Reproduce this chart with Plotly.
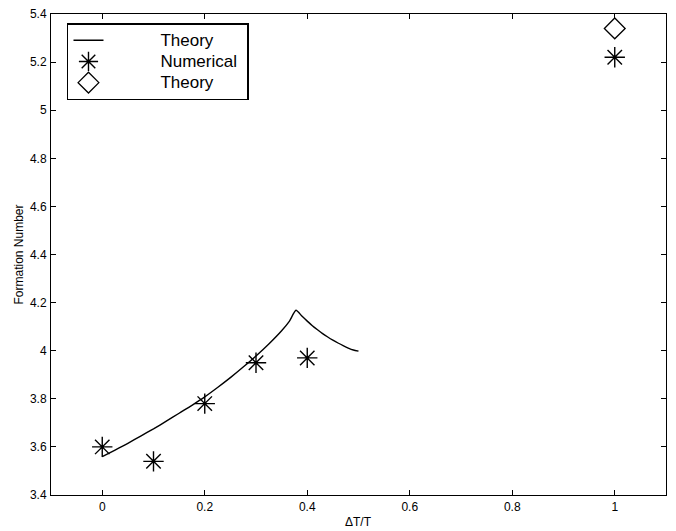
import plotly.graph_objects as go

# Theory curve
theory_x = [0.0, 0.025, 0.05, 0.075, 0.1, 0.125, 0.15, 0.175, 0.2, 0.225, 0.25, 0.275, 0.3,
            0.325, 0.35, 0.365, 0.378, 0.39, 0.40, 0.41, 0.42, 0.43, 0.44, 0.45, 0.46,
            0.47, 0.48, 0.49, 0.50]
theory_y = [3.56, 3.587, 3.615, 3.645, 3.675, 3.707, 3.74, 3.773, 3.808, 3.847, 3.888, 3.932, 3.978,
            4.028, 4.083, 4.122, 4.168, 4.143, 4.123, 4.104, 4.087, 4.071, 4.057, 4.044, 4.032,
            4.021, 4.011, 4.003, 3.998]

# Numerical results
num_x = [0.0, 0.1, 0.2, 0.3, 0.4, 1.0]
num_y = [3.60, 3.54, 3.78, 3.95, 3.97, 5.22]

# Theory point
th_pt_x = [1.0]
th_pt_y = [5.34]

x_ticks = [0, 0.2, 0.4, 0.6, 0.8, 1]
x_tick_labels = ["0", "0.2", "0.4", "0.6", "0.8", "1"]
y_ticks = [3.4, 3.6, 3.8, 4.0, 4.2, 4.4, 4.6, 4.8, 5.0, 5.2, 5.4]
y_tick_labels = ["3.4", "3.6", "3.8", "4", "4.2", "4.4", "4.6", "4.8", "5", "5.2", "5.4"]

FONT = "Liberation Sans, Arial, Helvetica"
PAD = "&nbsp;" * 11


def legend_name(s):
    return '<span style="font-size:17px">' + PAD + s + '&nbsp;</span>'


fig = go.Figure()
fig.add_trace(go.Scatter(x=theory_x, y=theory_y, mode="lines",
                         line=dict(color="black", width=1.4, shape="spline", smoothing=0.6),
                         name=legend_name("Theory")))
fig.add_trace(go.Scatter(x=num_x, y=num_y, mode="markers",
                         marker=dict(symbol="asterisk-open", size=17,
                                     line=dict(color="black", width=1.4), color="black"),
                         name=legend_name("Numerical")))
fig.add_trace(go.Scatter(x=th_pt_x, y=th_pt_y, mode="markers",
                         marker=dict(symbol="diamond-open", size=16,
                                     line=dict(color="black", width=1.3), color="black"),
                         name=legend_name("Theory")))

axis_common = dict(showgrid=False, zeroline=False, showline=True, linecolor="black",
                   linewidth=1, mirror="ticks", ticks="inside", ticklen=5,
                   tickcolor="black", automargin=False, ticklabeloverflow="allow",
                   tickfont=dict(family=FONT, size=12, color="black"))

fig.update_layout(
    width=668, height=523,
    margin=dict(l=43, r=10, t=6, b=36),
    plot_bgcolor="white", paper_bgcolor="white",
    font=dict(family=FONT, color="black"),
    xaxis=dict(range=[-0.1, 1.1], tickvals=x_ticks, ticktext=x_tick_labels,
               ticklabelstandoff=1, **axis_common),
    yaxis=dict(range=[3.4, 5.4], tickvals=y_ticks, ticktext=y_tick_labels,
               ticklabelstandoff=1, **axis_common),
    legend=dict(x=0.026, y=0.981, xanchor="left", yanchor="top",
                bordercolor="black", borderwidth=1.5, bgcolor="white",
                font=dict(size=14, family=FONT),
                tracegroupgap=0),
    showlegend=True,
    annotations=[
        dict(text="ΔT/T", xref="paper", yref="paper", x=0.5, y=0, yshift=-27,
             xanchor="center", yanchor="middle", showarrow=False,
             font=dict(size=12, family=FONT, color="black")),
        dict(text="Formation Number", xref="paper", yref="paper", x=0, y=0.5, xshift=-33,
             xanchor="center", yanchor="middle", textangle=-90, showarrow=False,
             font=dict(size=12, family=FONT, color="black")),
    ],
)

fig.write_html("out.html")
